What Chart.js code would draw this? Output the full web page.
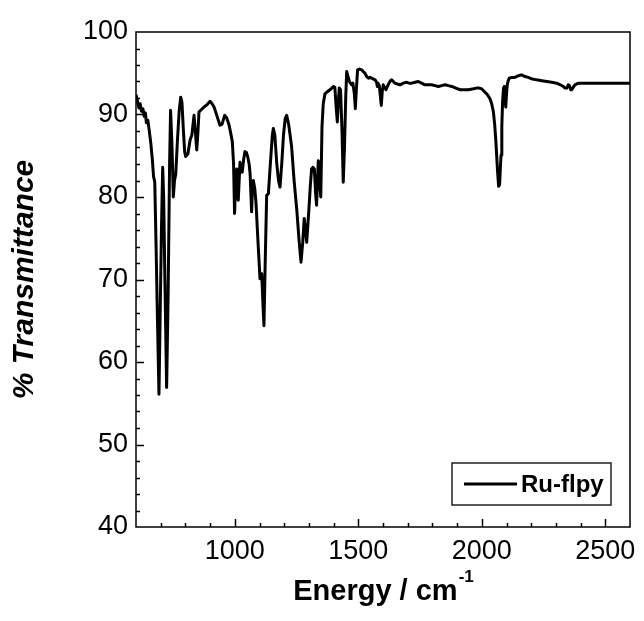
<!DOCTYPE html>
<html>
<head>
<meta charset="utf-8">
<script src="https://cdn.jsdelivr.net/npm/chart.js@4.4.1/dist/chart.umd.min.js"></script>
<style>
  body { margin: 0; background: #fff; }
</style>
</head>
<body>
<canvas id="irChart" width="644" height="621"></canvas>
<script>
const seriesLabel = 'Ru-flpy';

// wavenumber (cm-1)
const energy = [
  600, 606, 612, 617, 622, 628, 633, 638, 642, 648, 653, 660, 666, 671, 676, 681, 687, 693, 698, 703,
  708, 712, 717, 724, 730, 736, 740, 746, 751, 756, 761, 768, 775, 781, 786, 792, 797, 801, 810, 819,
  826, 835, 840, 846, 851, 855, 865, 875, 888, 900, 908, 916, 928, 940, 948, 959, 967, 977, 985, 990,
  995, 999, 1004, 1008, 1014, 1021, 1026, 1030, 1036, 1041, 1047, 1052, 1058, 1062, 1068, 1072, 1075, 1081, 1086, 1094,
  1102, 1109, 1114, 1118, 1123, 1129, 1136, 1145, 1152, 1156, 1162, 1170, 1177, 1183, 1190, 1197, 1204, 1210, 1218, 1230,
  1240, 1251, 1260, 1268, 1275, 1281, 1287, 1291, 1300, 1306, 1311, 1316, 1322, 1327, 1331, 1336, 1338, 1343, 1348, 1353,
  1358, 1365, 1372, 1385, 1393, 1399, 1405, 1410, 1415, 1420, 1423, 1428, 1434, 1439, 1444, 1449, 1453, 1458, 1464, 1468,
  1473, 1478, 1484, 1488, 1492, 1497, 1505, 1514, 1520, 1527, 1534, 1541, 1548, 1554, 1561, 1568, 1574, 1577, 1580, 1585,
  1590, 1593, 1597, 1601, 1606, 1612, 1618, 1624, 1630, 1635, 1642, 1648, 1658, 1669, 1682, 1696, 1706, 1716, 1730, 1743,
  1756, 1770, 1784, 1797, 1810, 1824, 1838, 1851, 1865, 1878, 1895, 1912, 1930, 1945, 1962, 1979, 1990, 2000, 2013, 2023,
  2033, 2040, 2047, 2052, 2057, 2063, 2068, 2072, 2075, 2078, 2081, 2084, 2088, 2091, 2094, 2097, 2100, 2103, 2107, 2111,
  2122, 2134, 2148, 2161, 2175, 2188, 2205, 2222, 2243, 2263, 2283, 2303, 2318, 2330, 2337, 2344, 2350, 2355, 2360, 2364,
  2370, 2377, 2391, 2430, 2472, 2520, 2560, 2600,
];

// % transmittance
const transmittance = [
  92.4, 91.6, 90.8, 91.3, 90.4, 90.7, 89.8, 90.2, 89.0, 89.3, 88.2, 86.5, 84.6, 82.5, 81.8, 74.5, 65.0, 56.1, 66.0, 76.0,
  83.6, 80.0, 70.0, 56.9, 68.0, 84.0, 90.5, 86.0, 80.0, 82.0, 82.8, 87.0, 90.5, 92.1, 91.5, 88.0, 85.5, 84.9, 85.2, 86.9,
  87.5, 89.9, 88.0, 85.7, 88.0, 90.3, 90.6, 90.9, 91.2, 91.6, 91.3, 90.9, 89.8, 88.7, 88.8, 89.9, 89.6, 88.7, 87.5, 86.7,
  84.0, 78.0, 82.0, 83.4, 79.6, 84.2, 83.6, 83.0, 84.6, 85.5, 85.4, 84.9, 84.0, 82.8, 78.2, 81.5, 82.0, 81.0, 79.2, 74.5,
  70.1, 70.7, 67.0, 64.4, 72.0, 80.2, 80.4, 84.5, 87.5, 88.3, 87.5, 84.0, 82.0, 81.2, 84.0, 87.5, 89.5, 89.9, 88.8, 86.1,
  82.0, 78.4, 74.8, 72.1, 74.5, 77.4, 75.8, 74.5, 78.5, 81.5, 83.4, 83.6, 83.4, 80.5, 79.0, 83.0, 84.4, 82.0, 80.0, 88.5,
  91.3, 92.5, 92.7, 93.0, 93.2, 93.4, 93.3, 91.0, 89.1, 92.0, 93.2, 93.0, 88.0, 81.8, 86.0, 92.0, 95.2, 94.6, 94.0, 93.8,
  93.6, 93.8, 92.5, 90.7, 93.0, 95.4, 95.5, 95.4, 95.2, 95.0, 94.6, 94.4, 94.5, 94.4, 94.3, 94.2, 93.9, 93.4, 93.8, 93.5,
  92.0, 91.1, 92.8, 93.6, 93.3, 93.0, 93.4, 93.8, 94.1, 94.2, 94.0, 93.8, 93.7, 93.6, 93.8, 93.9, 93.8, 93.8, 93.9, 94.0,
  93.8, 93.6, 93.6, 93.6, 93.5, 93.4, 93.5, 93.6, 93.5, 93.4, 93.2, 93.0, 93.0, 93.0, 93.1, 93.2, 93.2, 93.1, 92.7, 92.4,
  91.9, 91.3, 90.3, 88.8, 86.7, 83.5, 81.3, 81.5, 83.5, 85.1, 88.5, 91.5, 93.2, 93.4, 92.0, 90.9, 92.5, 93.6, 94.1, 94.4,
  94.5, 94.5, 94.7, 94.8, 94.6, 94.5, 94.3, 94.2, 94.1, 94.0, 93.9, 93.8, 93.6, 93.4, 93.2, 93.2, 93.6, 93.5, 93.0, 93.0,
  93.3, 93.6, 93.8, 93.8, 93.8, 93.8, 93.8, 93.8,
];

const xTickLabels = [1000, 1500, 2000, 2500];
const yTickLabels = [40, 50, 60, 70, 80, 90, 100];
const xMinorStep = 100;
const yMinorStep = 2;

const points = energy.map((e, i) => ({ x: e, y: transmittance[i] }));

// frame, inward ticks, legend box and x title with superscript
const decorations = {
  id: 'decorations',
  afterDraw(chart) {
    const { ctx, chartArea: a } = chart;
    const { x, y } = chart.scales;
    ctx.save();
    ctx.strokeStyle = '#000';
    ctx.lineWidth = 1.5;
    ctx.strokeRect(a.left, a.top, a.right - a.left, a.bottom - a.top);

    ctx.beginPath();
    for (let v = x.min + xMinorStep; v < x.max; v += xMinorStep) {
      const px = Math.round(x.getPixelForValue(v)) + 0.5;
      const len = xTickLabels.includes(v) ? 8 : 4;
      ctx.moveTo(px, a.bottom);
      ctx.lineTo(px, a.bottom - len);
    }
    for (let v = y.min + yMinorStep; v < y.max; v += yMinorStep) {
      const py = Math.round(y.getPixelForValue(v)) + 0.5;
      const len = yTickLabels.includes(v) ? 8 : 4;
      ctx.moveTo(a.left, py);
      ctx.lineTo(a.left + len, py);
    }
    ctx.stroke();

    // legend
    const boxW = 159;
    const boxH = 42;
    const bx = a.right - 19 - boxW;
    const by = a.bottom - 22 - boxH;
    ctx.lineWidth = 1.5;
    ctx.strokeStyle = '#222';
    ctx.strokeRect(bx, by, boxW, boxH);
    ctx.beginPath();
    ctx.lineWidth = 3;
    ctx.strokeStyle = '#000';
    ctx.moveTo(bx + 12, by + boxH / 2);
    ctx.lineTo(bx + 65, by + boxH / 2);
    ctx.stroke();
    ctx.fillStyle = '#000';
    ctx.font = 'bold 24px "Liberation Sans", Arial, sans-serif';
    ctx.textBaseline = 'middle';
    ctx.textAlign = 'left';
    ctx.fillText(seriesLabel, bx + 69, by + boxH / 2 + 1);

    // x title: Energy / cm^-1
    const main = 'Energy / cm';
    const sup = '-1';
    ctx.font = 'bold 29px "Liberation Sans", Arial, sans-serif';
    const mainW = ctx.measureText(main).width;
    ctx.font = 'bold 17px "Liberation Sans", Arial, sans-serif';
    const supW = ctx.measureText(sup).width;
    const cx = (a.left + a.right) / 2;
    const startX = cx - (mainW + supW) / 2;
    ctx.textBaseline = 'alphabetic';
    ctx.font = 'bold 29px "Liberation Sans", Arial, sans-serif';
    ctx.fillText(main, startX, 600);
    ctx.font = 'bold 17px "Liberation Sans", Arial, sans-serif';
    ctx.fillText(sup, startX + mainW + 1, 582);
    ctx.restore();
  },
};

const ctx = document.getElementById('irChart').getContext('2d');

new Chart(ctx, {
  type: 'line',
  data: {
    datasets: [{
      label: seriesLabel,
      data: points,
      borderColor: '#000',
      borderWidth: 3,
      borderJoinStyle: 'round',
      fill: false,
      tension: 0,
      pointRadius: 0,
    }],
  },
  options: {
    responsive: false,
    animation: false,
    layout: {
      padding: { top: 32, right: 13, left: 0, bottom: 0 },
    },
    plugins: {
      legend: { display: false },
      tooltip: { enabled: false },
    },
    scales: {
      x: {
        type: 'linear',
        min: 600,
        max: 2600,
        grid: { display: false, drawTicks: false },
        border: { display: false },
        afterBuildTicks: (scale) => {
          scale.ticks = xTickLabels.map((v) => ({ value: v }));
        },
        afterFit: (scale) => {
          scale.height = 94;
        },
        ticks: {
          maxRotation: 0,
          autoSkip: false,
          padding: 8,
          color: '#000',
          callback: (v) => String(v),
          font: { family: '"Liberation Sans", Arial, sans-serif', size: 27 },
        },
      },
      y: {
        min: 40,
        max: 100,
        grid: { display: false, drawTicks: false },
        border: { display: false },
        afterBuildTicks: (scale) => {
          scale.ticks = yTickLabels.map((v) => ({ value: v }));
        },
        afterFit: (scale) => {
          scale.width = 136;
        },
        ticks: {
          padding: 8,
          color: '#000',
          callback: (v) => String(v),
          font: { family: '"Liberation Sans", Arial, sans-serif', size: 27 },
        },
        title: {
          display: true,
          text: '% Transmittance',
          color: '#000',
          padding: { top: 7, bottom: 0 },
          font: { family: '"Liberation Sans", Arial, sans-serif', size: 30, weight: 'bold', style: 'italic' },
        },
      },
    },
  },
  plugins: [decorations],
});
</script>
</body>
</html>
